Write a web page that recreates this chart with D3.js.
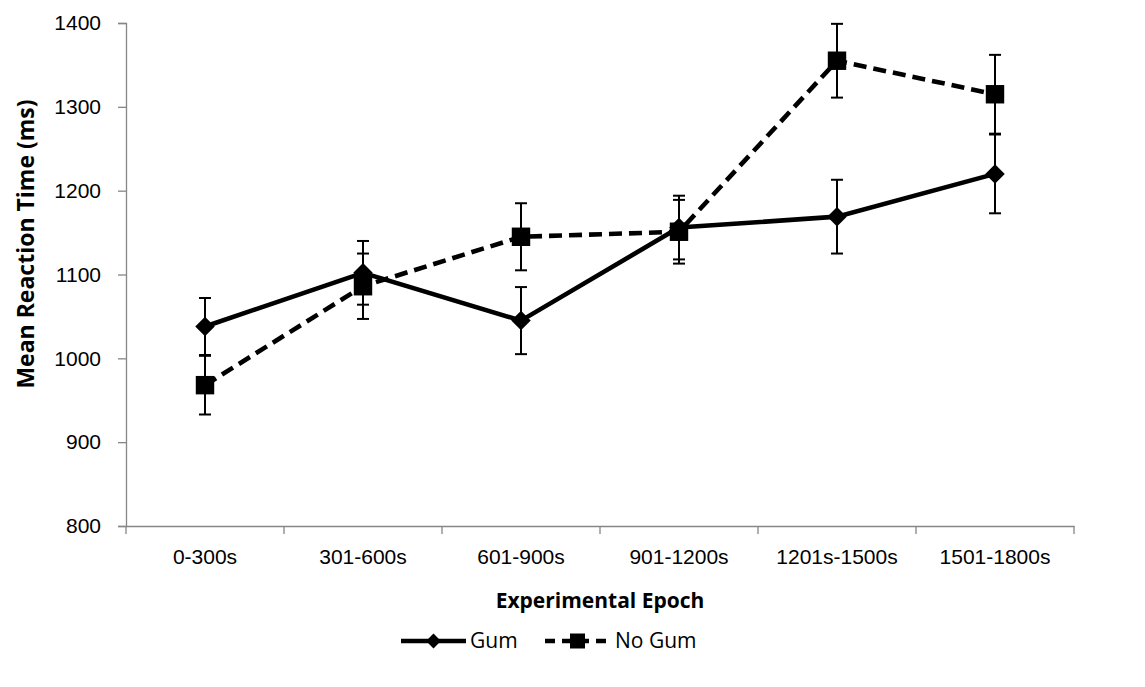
<!DOCTYPE html>
<html>
<head>
<meta charset="utf-8">
<script src="https://cdn.jsdelivr.net/npm/d3@7"></script>
<style>
  body { margin: 0; background: #fff; }
  svg { display: block; font-family: 'Open Sans', sans-serif; }
  .axis text { font-size: 21px; fill: #000; }
  .axis-title { font-size: 21px; font-weight: bold; fill: #000; }
  .legend text { font-size: 21px; fill: #000; }
</style>
</head>
<body>
<svg id="chart" width="1145" height="687"></svg>
<script>
// data
const epochs = ['0-300s', '301-600s', '601-900s', '901-1200s', '1201s-1500s', '1501-1800s'];
const gumMean = [1038, 1102, 1045, 1156, 1169, 1220];
const gumErr = [34, 38, 40, 38, 44, 47];
const noGumMean = [968, 1086, 1145, 1151, 1355, 1315];
const noGumErr = [35, 39, 40, 38, 44, 47];
const yTicks = [800, 900, 1000, 1100, 1200, 1300, 1400];

const series = [
  { name: 'Gum', mean: gumMean, err: gumErr, dash: null, marker: 'diamond' },
  { name: 'No Gum', mean: noGumMean, err: noGumErr, dash: '13,7', marker: 'square' }
];

const axisGray = '#868686';

const svg = d3.select('#chart');

// scales
const x = d3.scaleBand()
    .domain(epochs)
    .range([126, 1074]);

const y = d3.scaleLinear()
    .domain([800, 1400])
    .range([526, 23]);

// axes
const yAxis = d3.axisLeft(y)
    .tickValues(yTicks)
    .tickFormat(d3.format('d'))
    .tickSize(8)
    .tickPadding(17);

const xAxis = d3.axisBottom(x)
    .tickSize(0)
    .tickPadding(23);

svg.append('g')
    .attr('class', 'y axis')
    .attr('transform', `translate(${x.range()[0]},0)`)
    .call(yAxis)
    .call(g => g.selectAll('line, path').attr('stroke', axisGray).attr('stroke-width', 1.3));

const gx = svg.append('g')
    .attr('class', 'x axis')
    .attr('transform', `translate(0,${y(800)})`)
    .call(xAxis)
    .call(g => g.select('.domain').attr('stroke', axisGray).attr('stroke-width', 1.3));

// category boundary ticks
gx.selectAll('.bound-tick')
  .data(epochs.map(d => x(d)).concat([x.range()[1]]))
  .join('line')
    .attr('class', 'bound-tick')
    .attr('stroke', axisGray)
    .attr('stroke-width', 1.3)
    .attr('x1', d => d)
    .attr('x2', d => d)
    .attr('y1', 0)
    .attr('y2', 8);

// axis titles
svg.append('text')
    .attr('class', 'axis-title')
    .attr('text-anchor', 'middle')
    .attr('x', (x.range()[0] + x.range()[1]) / 2)
    .attr('y', 608)
    .text('Experimental Epoch');

svg.append('text')
    .attr('class', 'axis-title')
    .attr('text-anchor', 'middle')
    .style('font-size', '23px')
    .attr('transform', 'translate(34, 244) rotate(-90)')
    .text('Mean Reaction Time (ms)');

const cx = d => x(d) + x.bandwidth() / 2;

const line = d3.line()
    .x((d, i) => cx(epochs[i]))
    .y(d => y(d));

const diamond = d3.symbol().type(d3.symbolSquare).size(190);
const square = d3.symbol().type(d3.symbolSquare).size(340);

const plot = svg.append('g').attr('class', 'plot');

series.forEach(s => {
  const g = plot.append('g').attr('class', 'series');

  // error bars
  const bars = g.selectAll('.err')
    .data(s.mean.map((m, i) => ({ epoch: epochs[i], m, e: s.err[i] })))
    .join('g')
      .attr('class', 'err')
      .attr('stroke', '#000')
      .attr('stroke-width', 2);

  bars.append('line')
      .attr('x1', d => cx(d.epoch))
      .attr('x2', d => cx(d.epoch))
      .attr('y1', d => y(d.m - d.e))
      .attr('y2', d => y(d.m + d.e));

  bars.selectAll('.cap')
    .data(d => [{ epoch: d.epoch, v: d.m - d.e }, { epoch: d.epoch, v: d.m + d.e }])
    .join('line')
      .attr('class', 'cap')
      .attr('x1', d => cx(d.epoch) - 6)
      .attr('x2', d => cx(d.epoch) + 6)
      .attr('y1', d => y(d.v))
      .attr('y2', d => y(d.v));

  g.append('path')
      .datum(s.mean)
      .attr('fill', 'none')
      .attr('stroke', '#000')
      .attr('stroke-width', 4.6)
      .attr('stroke-dasharray', s.dash)
      .attr('d', line);

  g.selectAll('.marker')
    .data(s.mean)
    .join('path')
      .attr('class', 'marker')
      .attr('fill', '#000')
      .attr('d', s.marker === 'diamond' ? diamond : square)
      .attr('transform', (d, i) => `translate(${cx(epochs[i])},${y(d)})` +
            (s.marker === 'diamond' ? ' rotate(45)' : ''));
});

// legend
const legendItems = [
  { s: series[0], x0: 401, tx: 470 },
  { s: series[1], x0: 545, tx: 615 }
];

const legend = svg.append('g')
    .attr('class', 'legend')
    .attr('transform', 'translate(0,641)');

legendItems.forEach(item => {
  legend.append('line')
      .attr('x1', item.x0)
      .attr('x2', item.x0 + 65)
      .attr('y1', 0)
      .attr('y2', 0)
      .attr('stroke', '#000')
      .attr('stroke-width', 4.6)
      .attr('stroke-dasharray', item.s.dash ? '10,7' : null);

  legend.append('path')
      .attr('fill', '#000')
      .attr('d', item.s.marker === 'diamond'
        ? d3.symbol().type(d3.symbolSquare).size(110)()
        : d3.symbol().type(d3.symbolSquare).size(225)())
      .attr('transform', `translate(${item.x0 + 32.5},0)` +
            (item.s.marker === 'diamond' ? ' rotate(45)' : ''));

  legend.append('text')
      .attr('x', item.tx)
      .attr('y', 0)
      .attr('dy', '0.35em')
      .text(item.s.name);
});
</script>
</body>
</html>
